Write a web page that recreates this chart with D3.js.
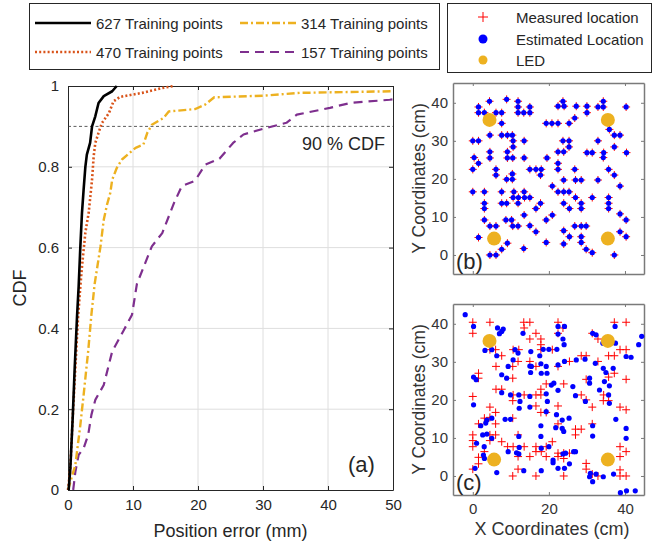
<!DOCTYPE html>
<html><head><meta charset="utf-8">
<script src="https://cdn.jsdelivr.net/npm/d3@7"></script>
<style>
body{margin:0;background:#fff;}
svg{display:block;font-family:"Liberation Sans",Arial,sans-serif;}
</style></head>
<body><svg id="c" width="670" height="543"></svg>
<script>
// ---------- DATA ----------
const seriesNames = ["627 Training points","470 Training points","314 Training points","157 Training points"];
const cdf627 = [[0,0],[0.1,0],[0.36,0.054],[0.72,0.178],[1.03,0.302],[1.38,0.426],[1.64,0.504],[1.9,0.603],[2.15,0.686],[2.4,0.743],[2.67,0.80],[2.9,0.83],[3.4,0.859],[3.7,0.90],[4.2,0.925],[4.7,0.958],[5.5,0.975],[6.8,0.987],[7.5,1.0]];
const cdf470 = [[0,0],[0.36,0.054],[0.72,0.178],[1.13,0.302],[1.54,0.426],[1.9,0.504],[2.15,0.553],[2.67,0.637],[3.18,0.686],[3.7,0.768],[3.95,0.826],[4.2,0.859],[4.7,0.884],[5.2,0.908],[6.3,0.933],[7.0,0.962],[8.0,0.973],[11.4,0.983],[14.5,0.995],[16.3,1.0]];
const cdf314 = [[0,0],[0.36,0.02],[1.13,0.062],[1.9,0.161],[2.4,0.235],[3.1,0.343],[3.6,0.434],[4.1,0.51],[5.0,0.603],[5.5,0.669],[6.0,0.706],[6.5,0.735],[6.8,0.768],[7.5,0.797],[8.3,0.818],[10.4,0.847],[11.6,0.855],[12.2,0.884],[12.9,0.904],[14.7,0.921],[15.5,0.937],[19.6,0.943],[21.1,0.954],[22.5,0.972],[30,0.976],[35.7,0.983],[50,0.987]];
const cdf157 = [[0.8,0],[1.13,0.045],[1.64,0.087],[2.4,0.103],[3.1,0.136],[3.6,0.186],[4.2,0.223],[5.5,0.26],[6.8,0.343],[8.6,0.396],[9.85,0.434],[10.6,0.51],[12.9,0.603],[14.5,0.636],[15.5,0.677],[16.3,0.71],[17.5,0.752],[19.3,0.764],[19.8,0.772],[21.1,0.805],[23.3,0.82],[25.4,0.859],[27,0.88],[30,0.894],[33.6,0.909],[35.2,0.929],[40.3,0.946],[43.4,0.958],[49.5,0.966],[50,0.967]];
const errTicks = [0,10,20,30,40,50];
const cdfTicks = [0,0.2,0.4,0.6,0.8,1];
const cdfTickLabels = ["0","0.2","0.4","0.6","0.8","1"];
const cdfMark = 0.9;

const ledPos = [[4.4,35.5],[35.5,35.5],[5.6,4.3],[35.5,4.3]];
// (b) 627 training points: measured and estimated positions coincide at this scale
const bPoints = [[4.4,40.4],[8.9,40.9],[11.9,40.4],[11.9,38.9],[15.0,38.9],[1.5,38.9],[1.5,37.4],[3.05,37.4],[6.1,37.4],[7.6,37.4],[11.9,37.4],[13.4,37.4],[15.0,37.4],[22.4,39.1],[23.7,40.4],[24.0,39.1],[27.2,39.1],[30.0,39.1],[30.0,37.4],[32.9,38.9],[34.3,40.4],[34.3,38.9],[40.3,38.9],[19.3,34.6],[20.8,34.6],[22.4,34.6],[25.3,34.6],[26.8,36.0],[7.6,34.6],[35.9,33.0],[37.2,31.5],[38.7,31.5],[4.5,31.5],[7.6,31.5],[9.1,31.5],[10.4,31.5],[10.6,30.0],[13.5,30.0],[0,30.0],[1.5,30.0],[23.7,30.0],[25.3,30.0],[32.9,30.0],[37.2,28.4],[25.3,28.4],[10.6,28.4],[4.5,27.1],[9.1,27.1],[22.4,27.1],[23.9,27.1],[30.0,26.9],[31.4,26.9],[40.4,26.9],[34.4,26.9],[0.35,25.6],[4.5,25.5],[9.1,25.5],[10.5,25.5],[13.5,25.5],[19.5,25.5],[34.3,25.6],[1.5,24.1],[22.4,24.1],[6.1,22.5],[15.0,22.5],[16.6,22.5],[18.0,22.5],[17.8,21.0],[0,22.5],[22.4,22.5],[26.8,22.5],[35.7,22.5],[37.2,21.0],[6.1,21.0],[8.9,19.9],[10.4,19.9],[10.4,21.3],[23.9,19.7],[27.0,19.7],[28.5,19.7],[32.9,19.7],[20.9,18.1],[38.7,18.1],[0,16.6],[3.05,16.6],[7.6,16.6],[10.8,16.6],[13.5,16.6],[22.4,16.6],[23.9,16.6],[25.3,16.6],[10.6,15.1],[12.0,15.1],[13.6,15.1],[15.0,15.1],[27.0,15.1],[31.4,15.1],[35.7,15.1],[35.7,13.6],[35.7,12.2],[3.05,13.6],[3.05,12.2],[7.6,13.6],[8.9,13.6],[11.9,13.6],[17.8,13.6],[23.9,13.6],[28.5,13.6],[28.5,12.2],[16.6,12.2],[25.4,12.2],[13.5,10.5],[20.9,10.5],[38.7,10.8],[8.7,9.2],[10.2,9.2],[40.3,9.2],[3.05,9.2],[19.3,9.2],[4.5,7.6],[6.1,7.6],[10.5,7.6],[11.9,7.6],[15.0,7.7],[26.8,7.6],[28.5,7.6],[29.8,7.6],[16.6,6.1],[23.9,6.4],[38.7,6.1],[25.4,4.8],[28.5,4.8],[40.3,4.8],[1.5,4.6],[9.1,3.1],[19.3,3.3],[23.9,2.9],[28.5,3.3],[7.6,1.5],[13.4,1.7],[29.8,1.5],[31.4,0.6],[37.2,0],[4.5,0],[6.1,0]];
// (c) measured locations
const cMeasured = [[0,40.4],[4.5,40.4],[13.4,40.4],[15.0,40.4],[22.4,40.4],[37.2,40.4],[40.3,40.4],[0,37.5],[13.5,38.9],[16.6,37.5],[23.7,38.9],[17.9,36.0],[15.0,36.0],[22.4,37.5],[31.4,37.5],[32.9,36.0],[4.5,33.2],[6.0,33.2],[7.6,31.6],[10.6,33.2],[12.1,33.2],[17.9,34.5],[17.9,33.2],[20.9,33.2],[38.7,33.2],[40.3,33.2],[35.7,31.6],[37.2,31.6],[29.8,31.6],[28.5,31.6],[11.9,30.1],[15.0,30.1],[25.4,30.1],[22.4,28.8],[32.9,30.1],[6.1,28.8],[10.5,28.8],[16.6,28.8],[1.5,27.0],[1.5,25.7],[10.5,25.7],[29.8,25.4],[35.7,26.0],[37.2,27.0],[40.3,25.4],[6.1,22.8],[7.6,22.8],[17.9,22.8],[19.3,24.2],[23.9,24.2],[0,20.9],[10.6,21.3],[13.5,21.3],[16.6,21.3],[17.9,21.3],[28.5,21.3],[34.4,21.3],[29.8,20.0],[10.5,19.8],[35.7,19.8],[34.3,19.8],[4.5,18.1],[6.0,16.7],[16.6,18.4],[22.4,18.4],[31.4,18.1],[38.7,18.1],[40.3,17.4],[3.05,15.2],[4.5,15.4],[10.5,15.2],[17.9,16.7],[19.3,16.7],[1.5,13.7],[6.0,13.7],[22.4,13.7],[27.0,12.3],[28.5,12.3],[31.4,13.7],[0,10.8],[4.5,10.8],[6.0,10.8],[11.9,10.8],[20.9,9.0],[27.0,10.8],[0,9.3],[4.5,9.3],[7.6,9.0],[9.15,7.7],[10.6,7.7],[13.5,7.7],[16.6,7.7],[19.3,7.7],[38.7,7.7],[0,7.7],[3.05,6.4],[16.6,6.4],[18.0,6.4],[22.4,6.0],[23.9,6.0],[25.4,6.0],[40.3,6.4],[1.5,4.9],[1.5,3.2],[11.9,5.1],[15.0,5.1],[19.3,5.1],[22.4,5.1],[23.9,4.6],[29.8,3.3],[38.7,5.1],[0,1.8],[11.9,1.8],[10.5,0],[16.6,0],[23.9,0],[29.8,1.8],[31.4,0.5],[32.9,0],[38.7,1.6],[40.3,0],[38.7,0]];
// (c) estimated locations
const cEstimated = [[-2.0,42.4],[0.2,39.3],[6.5,38.9],[8.0,38.6],[7.6,38.0],[7.0,37.4],[13.2,37.5],[22.4,39.3],[24.1,39.3],[23.7,36.0],[24.0,34.5],[22.4,37.3],[3.2,33.0],[5.0,33.2],[6.3,31.6],[11.9,32.3],[11.1,33.2],[15.25,32.7],[17.6,31.6],[18.5,33.3],[20.0,33.3],[22.1,33.3],[31.5,37.5],[32.4,37.1],[34.2,34.9],[37.4,39.3],[37.5,34.9],[40.3,31.4],[41.6,31.2],[43.6,34.5],[44.4,36.7],[10.6,30.5],[9.3,28.8],[15.0,28.9],[15.4,28.8],[17.9,29.5],[19.3,28.8],[24.1,30.1],[22.4,29.2],[27.2,30.5],[29.5,30.7],[32.2,29.6],[34.3,28.3],[35.0,27.2],[36.9,28.3],[0.2,26.0],[0.9,25.3],[7.6,26.6],[8.9,25.7],[15.2,27.2],[18.0,27.0],[19.5,27.0],[30.7,25.7],[30.7,24.4],[34.6,24.8],[7.6,21.9],[9.9,21.3],[12.1,21.3],[15.0,20.9],[19.3,21.6],[0.2,18.7],[20.65,23.9],[21.3,24.4],[22.4,22.5],[26.3,23.5],[33.3,22.6],[35.9,23.7],[35.7,21.3],[12.4,19.6],[12.2,17.8],[15.0,18.1],[19.6,19.6],[19.3,16.9],[27.0,21.1],[29.6,19.6],[35.9,19.1],[2.1,13.2],[3.4,13.9],[3.7,14.7],[5.0,15.2],[8.5,14.9],[9.9,14.9],[22.0,16.1],[23.5,14.7],[25.3,15.2],[31.5,13.2],[37.6,14.9],[40.3,12.5],[17.9,13.2],[21.8,12.7],[23.5,12.5],[23.9,11.7],[2.6,10.8],[3.7,11.0],[5.0,9.9],[12.1,10.4],[17.9,10.4],[31.5,10.5],[40.3,9.9],[1.0,8.6],[3.0,7.7],[9.3,6.4],[12.2,7.5],[12.1,5.8],[11.5,6.1],[18.0,7.3],[20.0,7.7],[21.1,4.2],[23.7,5.8],[24.4,6.0],[26.5,6.4],[0.6,2.0],[3.05,4.6],[6.3,0.9],[13.4,1.4],[18.0,1.4],[21.1,3.5],[22.4,2.0],[24.1,2.0],[25.4,3.2],[30.9,0.7],[32.4,0.5],[34.3,-0.2],[31.5,-1.5],[38.8,-4.4],[40.4,-3.9],[42.7,-3.9],[37.0,0.5],[27.0,6.4],[2.8,5.5],[30.7,-0.2]];
const coordTicks = [0,10,20,30,40];
const coordXTicks = [0,20,40];
const scatterLegend = ["Measured location","Estimated Location","LED"];

// ---------- STYLE ----------
const svg = d3.select("#c");
const txt = "#262626";
const colors = ["#000000","#D95319","#EDB120","#7E2F8E"];
const dashes = [null,"2,2.2","8,3,2,3","9,6"];
const widths = [2.6,2.6,2.4,2.2];
const allSeries = [cdf627,cdf470,cdf314,cdf157];

// ---------- MAIN PLOT (a) ----------
const x = d3.scaleLinear().domain([0,50]).range([68,393]);
const y = d3.scaleLinear().domain([0,1]).range([490,86]);
const gA = svg.append("g");
// grid
gA.selectAll(".gx").data(errTicks.slice(1,-1)).join("line")
  .attr("x1",d=>x(d)).attr("x2",d=>x(d)).attr("y1",y(0)).attr("y2",y(1))
  .attr("stroke","#dedede").attr("stroke-width",1);
gA.selectAll(".gy").data(cdfTicks.slice(1,-1)).join("line")
  .attr("y1",d=>y(d)).attr("y2",d=>y(d)).attr("x1",x(0)).attr("x2",x(50))
  .attr("stroke","#dedede").attr("stroke-width",1);
// axes
const axB = d3.axisBottom(x).tickValues(errTicks).tickSizeInner(-4).tickSizeOuter(0).tickPadding(9);
const axL = d3.axisLeft(y).tickValues(cdfTicks).tickFormat((d,i)=>cdfTickLabels[i]).tickSizeInner(-4).tickSizeOuter(0).tickPadding(9);
const axT = d3.axisTop(x).tickValues(errTicks).tickSizeInner(-4).tickSizeOuter(0).tickFormat("");
const axR = d3.axisRight(y).tickValues(cdfTicks).tickSizeInner(-4).tickSizeOuter(0).tickFormat("");
function styleAxis(g,fs){
  g.select(".domain").attr("stroke",txt);
  g.selectAll(".tick line").attr("stroke",txt);
  g.selectAll("text").attr("fill",txt).style("font-size",fs+"px").style("font-family","'Liberation Sans',Arial,sans-serif");
}
gA.append("g").attr("transform",`translate(0,${y(0)})`).call(axB).call(g=>styleAxis(g,15));
gA.append("g").attr("transform",`translate(${x(0)},0)`).call(axL).call(g=>styleAxis(g,15));
gA.append("g").attr("transform",`translate(0,${y(1)})`).call(axT).call(g=>styleAxis(g,15));
gA.append("g").attr("transform",`translate(${x(50)},0)`).call(axR).call(g=>styleAxis(g,15));
// 90% line
gA.append("line").attr("x1",x(0)).attr("x2",x(50)).attr("y1",y(cdfMark)).attr("y2",y(cdfMark))
  .attr("stroke","#333").attr("stroke-width",0.8).attr("stroke-dasharray","3,2.5");
gA.append("text").attr("x",385).attr("y",y(cdfMark)+24).attr("text-anchor","end")
  .attr("fill",txt).style("font-size","18px").text("90 % CDF");
// curves
svg.append("clipPath").attr("id","clipA").append("rect").attr("x",x(0)-2).attr("y",y(1)-2).attr("width",x(50)-x(0)+2).attr("height",y(0)-y(1)+2);
const line = d3.line().x(d=>x(d[0])).y(d=>y(d[1]));
const gC = gA.append("g").attr("clip-path","url(#clipA)");
[3,2,1,0].forEach(i=>{
  gC.append("path").datum(allSeries[i]).attr("d",line).attr("fill","none")
    .attr("stroke",colors[i]).attr("stroke-width",widths[i])
    .attr("stroke-dasharray",dashes[i]).attr("stroke-linejoin","round");
});
gA.append("text").attr("x",348).attr("y",472).attr("fill",txt).style("font-size","22px").text("(a)");
// axis labels
svg.append("text").attr("x",(x(0)+x(50))/2).attr("y",537).attr("text-anchor","middle")
  .attr("fill",txt).style("font-size","18px").text("Position error (mm)");
svg.append("text").attr("transform",`translate(26,${(y(0)+y(1))/2}) rotate(-90)`).attr("text-anchor","middle")
  .attr("fill",txt).style("font-size","18px").text("CDF");

// legend (a)
const legA = svg.append("g");
legA.append("rect").attr("x",29.5).attr("y",3.5).attr("width",410).attr("height",66).attr("fill","#fff").attr("stroke",txt).attr("stroke-width",1);
const legPos = [[35,23],[35,52],[240,23],[240,52]];
seriesNames.forEach((n,i)=>{
  const [lx,ly] = legPos[i];
  legA.append("line").attr("x1",lx).attr("x2",lx+56).attr("y1",ly).attr("y2",ly)
    .attr("stroke",colors[i]).attr("stroke-width",widths[i]).attr("stroke-dasharray",dashes[i]);
  legA.append("text").attr("x",lx+61).attr("y",ly+5.5).attr("fill",txt).style("font-size","15px").text(n);
});

// ---------- SUBPLOTS (b), (c) ----------
const sx = d3.scaleLinear().domain([-5.2,45]).range([453,644]);
function subplot(top,bottom,measured,estimated,label,showXLabels){
  const sy = d3.scaleLinear().domain([-5,45.2]).range([bottom,top]);
  const g = svg.append("g");
  g.append("rect").attr("x",sx.range()[0]).attr("y",top).attr("width",sx.range()[1]-sx.range()[0]).attr("height",bottom-top).attr("fill","#fff");
  const gray = "#7a7a7a";
  const st = (a)=>{a.select(".domain").attr("stroke",gray).attr("stroke-width",1.5);a.selectAll(".tick line").attr("stroke",gray);
    a.selectAll("text").attr("fill","#333").style("font-size","15px").style("font-family","'Liberation Sans',Arial,sans-serif");};
  g.append("g").attr("transform",`translate(0,${bottom})`).call(d3.axisBottom(sx).tickValues(coordXTicks).tickSizeInner(-3).tickSizeOuter(0).tickPadding(8).tickFormat(showXLabels?d3.format("d"):"")).call(st);
  g.append("g").attr("transform",`translate(0,${top})`).call(d3.axisTop(sx).tickValues(coordXTicks).tickSizeInner(-3).tickSizeOuter(0).tickFormat("")).call(st);
  g.append("g").attr("transform",`translate(${sx.range()[0]},0)`).call(d3.axisLeft(sy).tickValues(coordTicks).tickSizeInner(-3).tickSizeOuter(0).tickPadding(5)).call(st);
  g.append("g").attr("transform",`translate(${sx.range()[1]},0)`).call(d3.axisRight(sy).tickValues(coordTicks).tickSizeInner(-3).tickSizeOuter(0).tickFormat("")).call(st);
  // measured +
  const s = 4;
  g.append("g").selectAll("path").data(measured).join("path")
    .attr("d",d=>`M${sx(d[0])-s},${sy(d[1])}H${sx(d[0])+s}M${sx(d[0])},${sy(d[1])-s}V${sy(d[1])+s}`)
    .attr("stroke","#ff0000").attr("stroke-width",1).attr("fill","none");
  g.append("g").selectAll("circle").data(estimated).join("circle")
    .attr("cx",d=>sx(d[0])).attr("cy",d=>sy(d[1])).attr("r",2.6).attr("fill","#0000ff");
  g.append("g").selectAll("circle").data(ledPos).join("circle")
    .attr("cx",d=>sx(d[0])).attr("cy",d=>sy(d[1])).attr("r",7).attr("fill","#EDB120");
  g.append("text").attr("x",456).attr("y",bottom-5).attr("fill",txt).style("font-size","22px").text(label);
  svg.append("text").attr("transform",`translate(425,${(top+bottom)/2}) rotate(-90)`).attr("text-anchor","middle")
    .attr("fill","#333").style("font-size","17.5px").text("Y Coordinates (cm)");
}
subplot(83,274,bPoints,bPoints,"(b)",false);
subplot(304,495,cMeasured,cEstimated,"(c)",true);
svg.append("text").attr("x",552).attr("y",535).attr("text-anchor","middle")
  .attr("fill","#333").style("font-size","18px").text("X Coordinates (cm)");

// legend (b,c)
const legB = svg.append("g");
legB.append("rect").attr("x",447.5).attr("y",3.5).attr("width",204).attr("height",69).attr("fill","#fff").attr("stroke",txt).attr("stroke-width",1);
const lyPos = [17,39,60];
legB.append("path").attr("d",`M${483-5},${lyPos[0]}H${483+5}M483,${lyPos[0]-5}V${lyPos[0]+5}`).attr("stroke","#ff0000").attr("stroke-width",1);
legB.append("circle").attr("cx",483).attr("cy",lyPos[1]).attr("r",4.5).attr("fill","#0000ff");
legB.append("circle").attr("cx",483).attr("cy",lyPos[2]).attr("r",4.5).attr("fill","#EDB120");
scatterLegend.forEach((n,i)=>{
  legB.append("text").attr("x",516).attr("y",lyPos[i]+5.5).attr("fill",txt).style("font-size","15px").text(n);
});
</script></body></html>
